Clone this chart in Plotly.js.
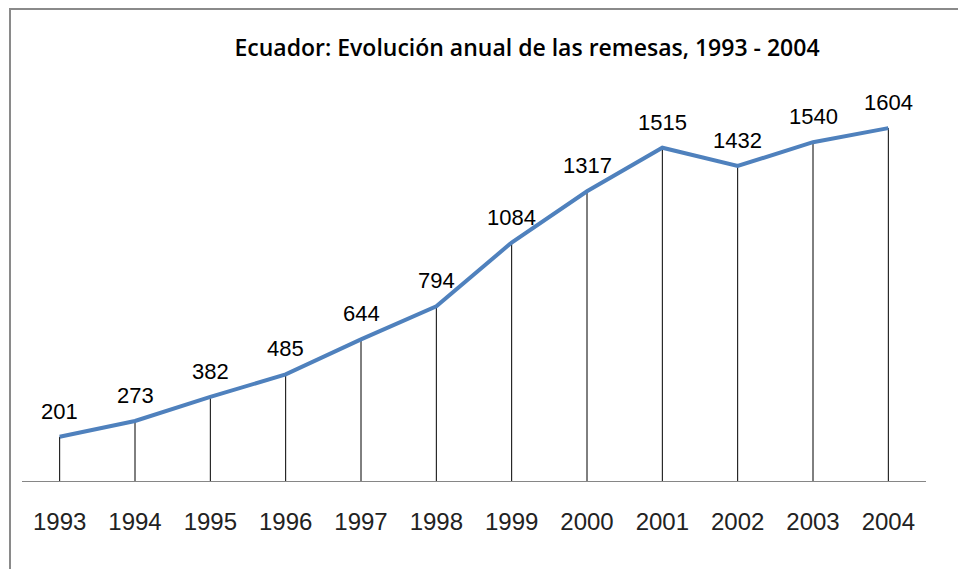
<!DOCTYPE html>
<html>
<head>
<meta charset="utf-8">
<script src="https://cdn.plot.ly/plotly-3.0.1.min.js"></script>
<style>
  html, body { margin:0; padding:0; background:#fff; overflow:hidden; }
  #frame { position:absolute; left:9px; top:8px; width:1000px; height:600px;
           border-left:2px solid #8a8a8a; border-top:2px solid #8a8a8a; }
  #chart { position:absolute; left:0; top:0; width:958px; height:569px; }
</style>
</head>
<body>
<div id="frame"></div>
<div id="chart"></div>
<script>
const years = ['1993','1994','1995','1996','1997','1998','1999','2000','2001','2002','2003','2004'];
const remesas = [201, 273, 382, 485, 644, 794, 1084, 1317, 1515, 1432, 1540, 1604];
const chartTitle = 'Ecuador: Evolución anual de las remesas, 1993 - 2004';

const dropLines = {
  x: years, y: remesas, type: 'scatter', mode: 'markers',
  marker: {size: 1, color: 'rgba(0,0,0,0)'},
  error_y: {type: 'data', symmetric: false, array: remesas.map(() => 0), arrayminus: remesas,
            color: '#000000', thickness: 1, width: 0},
  hoverinfo: 'skip', showlegend: false
};
const line = {
  x: years, y: remesas, type: 'scatter', mode: 'lines',
  line: {color: '#4F81BD', width: 4}, showlegend: false
};

const annotations = years.map((yr, i) => ({
  xref: 'x', yref: 'y',
  x: i, y: remesas[i], text: String(remesas[i]), showarrow: false,
  yanchor: 'bottom', yshift: 11,
  font: {family: 'Liberation Sans', size: 22, color: '#000000'}
}));

const layout = {
  width: 958, height: 569,
  margin: {l: 22, r: 32, t: 85, b: 88},
  paper_bgcolor: 'rgba(0,0,0,0)', plot_bgcolor: 'rgba(0,0,0,0)',
  title: {text: chartTitle, x: 527/958, xanchor: 'center', y: 1 - 48/569, yanchor: 'middle',
          font: {family: 'Open Sans', size: 23, color: '#000', weight: 600}},
  xaxis: {type: 'category', range: [-0.5, 11.5], showline: true, linecolor: '#868686', linewidth: 1,
          ticks: '', showgrid: false, zeroline: false, ticklabelstandoff: 19,
          tickfont: {family: 'Liberation Sans', size: 24, color: '#222'}},
  yaxis: {range: [0, 1800], visible: false, showgrid: false, zeroline: false},
  annotations: annotations
};

Plotly.newPlot('chart', [dropLines, line], layout, {displayModeBar: false, staticPlot: true});
</script>
</body>
</html>
